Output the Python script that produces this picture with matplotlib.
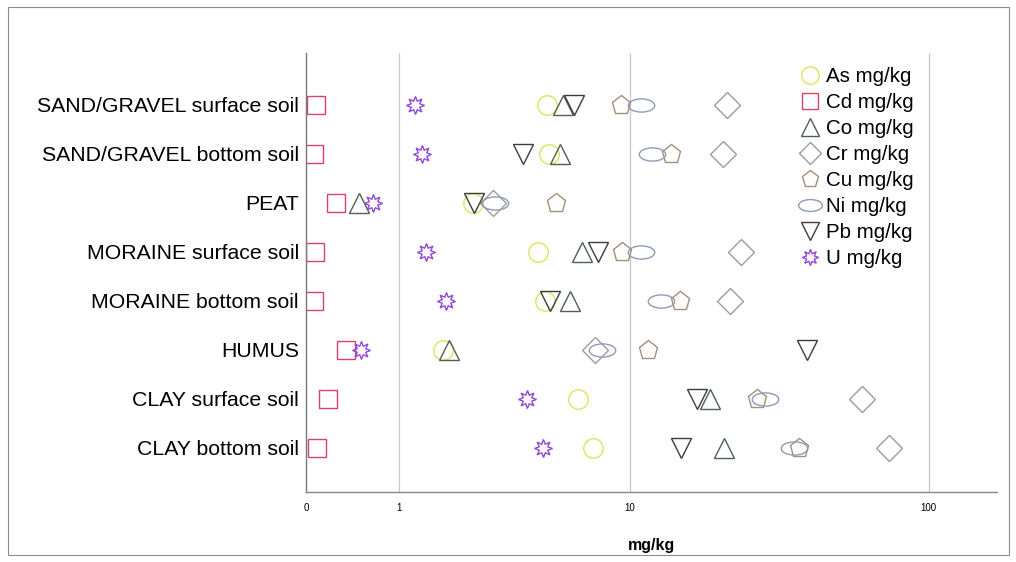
import numpy as np
import matplotlib
matplotlib.use('Agg')
import matplotlib.pyplot as plt
from matplotlib.path import Path
from matplotlib.patches import Rectangle

plt.rcParams['font.family'] = ['Liberation Sans', 'DejaVu Sans']

# soil types (top to bottom)
soils = ['SAND/GRAVEL surface soil', 'SAND/GRAVEL bottom soil', 'PEAT',
         'MORAINE surface soil', 'MORAINE bottom soil', 'HUMUS',
         'CLAY surface soil', 'CLAY bottom soil']

# mean concentrations, mg/kg
As = [4.96, 5.06, 2.44, 4.6, 4.88, 1.77, 6.53, 7.41]
Cd = [0.08, 0.06, 0.25, 0.07, 0.06, 0.35, 0.18, 0.09]
Co = [5.71, 5.57, 0.48, 6.72, 6.08, 1.89, 18.9, 21.2]
Cr = [21.6, 21.0, 3.0, 24.2, 22.2, 7.5, 60.5, 74.0]
Cu = [9.3, 14.0, 5.4, 9.4, 15.0, 11.6, 27.3, 37.5]
Ni = [11.0, 12.0, 3.05, 11.0, 12.9, 7.95, 29.0, 36.3]
Pb = [6.3, 4.0, 2.48, 7.7, 5.1, 39.9, 17.1, 15.1]
U = [1.25, 1.36, 0.65, 1.43, 1.82, 0.5, 4.14, 4.81]

x_ticks = [0, 1, 10, 100]

# ellipse marker for Ni
circ = Path.unit_circle()
ellipse = Path(circ.vertices * [1.0, 0.5], circ.codes)

series = [
    ('As mg/kg', As, 'o', 14, '#dde45c'),
    ('Cd mg/kg', Cd, 's', 13, '#d8416a'),
    ('Co mg/kg', Co, '^', 14, '#506150'),
    ('Cr mg/kg', Cr, 'D', 13, '#9c9c9c'),
    ('Cu mg/kg', Cu, 'p', 14, '#a58f78'),
    ('Ni mg/kg', Ni, ellipse, 19, '#8f9ab8'),
    ('Pb mg/kg', Pb, 'v', 14, '#3c3c3c'),
    ('U mg/kg', U, (8, 1, 0), 13, '#9448d8'),
]


def fwd(x):
    return np.log10(np.maximum(x, -0.999) + 1)


def inv(y):
    return 10 ** y - 1


fig = plt.figure(figsize=(10.16, 5.62), dpi=100)
ax = fig.add_axes([0.301, 0.1246, 0.680, 0.781])
ax.set_xscale('function', functions=(fwd, inv))

ypos = np.arange(len(soils))
for label, vals, mk, ms, col in series:
    ax.plot(vals, ypos, linestyle='none', marker=mk, markersize=ms,
            markerfacecolor='none', markeredgecolor=col, markeredgewidth=1.0,
            label=label)

ax.set_xlim(0, 166)
ax.set_ylim(7.9, -1.06)
ax.set_yticks(ypos)
ax.set_yticklabels(soils, fontsize=15.3)
ax.set_xticks(x_ticks)
ax.set_xticklabels([str(t) for t in x_ticks], fontsize=7)
ax.tick_params(axis='both', length=0)
ax.tick_params(axis='x', pad=8)
ax.tick_params(axis='y', pad=5)

for t in [1, 10, 100]:
    ax.axvline(t, color='#c8c8c8', lw=0.9, zorder=0)

for s in ['top', 'right']:
    ax.spines[s].set_visible(False)
ax.spines['left'].set_color('#777777')
ax.spines['bottom'].set_color('#888888')
ax.spines['left'].set_linewidth(1.0)
ax.spines['bottom'].set_linewidth(1.0)

ax.set_xlabel('mg/kg', fontsize=11.5, fontweight='bold', labelpad=18)

fig.legend(loc='upper left', bbox_to_anchor=(0.787, 0.880), frameon=False,
           fontsize=14.8, handlelength=1.0, handletextpad=0.3,
           labelspacing=0.34, borderpad=0, borderaxespad=0, markerscale=0.9)

fig.patches.append(Rectangle((0.008, 0.012), 0.985, 0.975,
                             transform=fig.transFigure, fill=False,
                             edgecolor='#8c8c8c', linewidth=0.8))

fig.savefig('out.png', dpi=100)
